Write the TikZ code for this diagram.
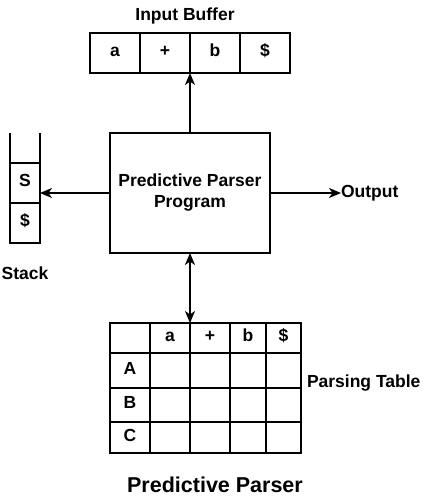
\documentclass[tikz,border=0pt]{standalone}
\usepackage{fontspec}
\setmainfont{Liberation Sans}
\usetikzlibrary{arrows.meta}
\begin{document}
\begin{tikzpicture}[x=1pt,y=-1pt,
  every node/.style={font=\fontsize{17.5}{20}\selectfont\bfseries, inner sep=0pt, outer sep=0pt},
  cell/.style={draw, line width=1.6pt, anchor=center, text height=0.72em, text depth=0pt},
  tip/.style={},
  conn/.style={line width=1.6pt, -{Stealth[length=12pt,width=10pt,inset=3.5pt]}},
  dconn/.style={line width=1.6pt, {Stealth[length=12pt,width=10pt,inset=3.5pt]}-{Stealth[length=12pt,width=10pt,inset=3.5pt]}},
  lbl/.style={}]
\useasboundingbox (0,0) rectangle (431,496);
% input buffer
\node[lbl] (ibl) at (185,16) {Input Buffer};
\node[cell, minimum width=50, minimum height=40] (b1) at (115,53) {a};
\node[cell, minimum width=50, minimum height=40] (b2) at (165,53) {+};
\node[cell, minimum width=50, minimum height=40] (b3) at (215,53) {b};
\node[cell, minimum width=50, minimum height=40] (b4) at (265,53) {\$};
% program
\node[draw, line width=1.6pt, minimum width=160, minimum height=120, align=center] (prog) at (190,193) {Predictive Parser\\[1pt]Program};
% stack
\node[cell, minimum width=30, minimum height=40] (s1) at (25,183) {S};
\node[cell, minimum width=30, minimum height=40] (s2) at (25,223) {\$};
\coordinate (stl) at (10,133);
\coordinate (str) at (40,133);
\draw[line width=1.6pt] (stl) -- (s1.north west);
\draw[line width=1.6pt] (str) -- (s1.north east);
\node[lbl] (stk) at (25,273) {Stack};
% table
\foreach \c/\xa/\xb/\h in {0/110/150/{},1/150/190/a,2/190/230/+,3/230/266/b,4/266/301/\$} {
  \node[cell, minimum width=\xb-\xa, minimum height=30] (t0\c) at ({(\xa+\xb)/2},338) {\h};
  \foreach \r/\ya/\yb/\lab in {1/353/388/A,2/388/422/B,3/422/453/C} {
    \node[cell, minimum width=\xb-\xa, minimum height=\yb-\ya] (t\r\c) at ({(\xa+\xb)/2},{(\ya+\yb)/2}) {\ifnum\c=0 \lab\fi};
  }
}
\node[lbl, anchor=west] (ptl) at (307,383) {Parsing Table};
\node[lbl, font=\fontsize{21.5}{24}\selectfont\bfseries] (title) at (215,485) {Predictive Parser};
% output
\node[lbl, anchor=west] (out) at (341,193) {Output};
% connectors
\draw[conn] (prog.north) -- (b2.south east);
\draw[conn] (prog.west) -- (s1.east |- prog.west);
\draw[conn] (prog.east) -- (out.west);
\draw[dconn] (prog.south) -- (t02.north west);
\end{tikzpicture}
\end{document}
